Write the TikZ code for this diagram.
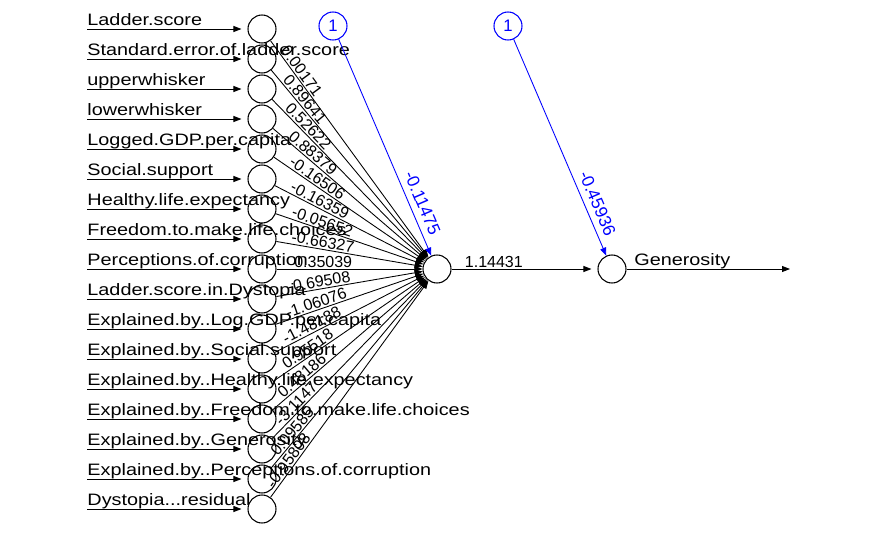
\documentclass[tikz,border=0pt]{standalone}
\usepackage{fontspec}
\setmainfont{Liberation Sans}
\usepackage{graphicx}
\usetikzlibrary{arrows.meta}
\definecolor{biasblue}{RGB}{0, 0, 255}
\definecolor{textblack}{RGB}{0, 0, 0}
\newcommand{\widetext}[1]{\scalebox{1.2}[1]{#1}}

\begin{document}
\begin{tikzpicture}[
        x=0.75pt, y=-0.75pt,
        neuron/.style={circle, draw=textblack, line width=0.8pt, minimum size=21pt, inner sep=0pt},
        bias/.style={circle, draw=biasblue, line width=0.8pt, minimum size=21pt, inner sep=0pt, text=biasblue, font=\fontsize{12.5}{14}\selectfont},
        flow/.style={-{Triangle[length=6pt,width=4.5pt]}, line width=0.65pt, color=textblack},
        biasflow/.style={-{Triangle[length=6pt,width=4.5pt]}, line width=0.65pt, color=biasblue},
        inputlabel/.style={anchor=base west, inner sep=0pt, yshift=2.5pt, font=\fontsize{12.4}{14}\selectfont},
        weightlabel/.style={sloped, above, inner sep=1pt, font=\fontsize{12}{14}\selectfont},
        biaslabel/.style={sloped, above, inner sep=4.5pt, text=biasblue, font=\fontsize{13}{15}\selectfont}
    ]
    \useasboundingbox (0,0) rectangle (875,540);

    % Input layer
    \node[neuron] (ladder) at (262,29) {};
    \node[neuron] (stderr) at (262,59) {};
    \node[neuron] (upper) at (262,89) {};
    \node[neuron] (lower) at (262,119) {};
    \node[neuron] (gdp) at (262,149) {};
    \node[neuron] (social) at (262,179) {};
    \node[neuron] (health) at (262,209) {};
    \node[neuron] (freedom) at (262,239) {};
    \node[neuron] (corrupt) at (262,269) {};
    \node[neuron] (dystopia) at (262,299) {};
    \node[neuron] (ex_gdp) at (262,329) {};
    \node[neuron] (ex_social) at (262,359) {};
    \node[neuron] (ex_health) at (262,389) {};
    \node[neuron] (ex_freedom) at (262,419) {};
    \node[neuron] (ex_generosity) at (262,449) {};
    \node[neuron] (ex_corrupt) at (262,479) {};
    \node[neuron] (residual) at (262,509) {};

    % Hidden, output and bias nodes
    \node[neuron] (hidden) at (437,269) {};
    \node[neuron] (generosity) at (612,269) {};
    \node[bias] (bias1) at (333,26) {1};
    \node[bias] (bias2) at (508,26) {1};

    % Input arrows
    \coordinate (ladder_in) at (87,29);
    \coordinate (stderr_in) at (87,59);
    \coordinate (upper_in) at (87,89);
    \coordinate (lower_in) at (87,119);
    \coordinate (gdp_in) at (87,149);
    \coordinate (social_in) at (87,179);
    \coordinate (health_in) at (87,209);
    \coordinate (freedom_in) at (87,239);
    \coordinate (corrupt_in) at (87,269);
    \coordinate (dystopia_in) at (87,299);
    \coordinate (ex_gdp_in) at (87,329);
    \coordinate (ex_social_in) at (87,359);
    \coordinate (ex_health_in) at (87,389);
    \coordinate (ex_freedom_in) at (87,419);
    \coordinate (ex_generosity_in) at (87,449);
    \coordinate (ex_corrupt_in) at (87,479);
    \coordinate (residual_in) at (87,509);
    \draw[flow, shorten >=4.5pt] (ladder_in) -- node[inputlabel, pos=0] (t_ladder) {\widetext{Ladder.score}} (ladder);
    \draw[flow, shorten >=4.5pt] (stderr_in) -- node[inputlabel, pos=0] (t_stderr) {\widetext{Standard.error.of.ladder.score}} (stderr);
    \draw[flow, shorten >=4.5pt] (upper_in) -- node[inputlabel, pos=0] (t_upper) {\widetext{upperwhisker}} (upper);
    \draw[flow, shorten >=4.5pt] (lower_in) -- node[inputlabel, pos=0] (t_lower) {\widetext{lowerwhisker}} (lower);
    \draw[flow, shorten >=4.5pt] (gdp_in) -- node[inputlabel, pos=0] (t_gdp) {\widetext{Logged.GDP.per.capita}} (gdp);
    \draw[flow, shorten >=4.5pt] (social_in) -- node[inputlabel, pos=0] (t_social) {\widetext{Social.support}} (social);
    \draw[flow, shorten >=4.5pt] (health_in) -- node[inputlabel, pos=0] (t_health) {\widetext{Healthy.life.expectancy}} (health);
    \draw[flow, shorten >=4.5pt] (freedom_in) -- node[inputlabel, pos=0] (t_freedom) {\widetext{Freedom.to.make.life.choices}} (freedom);
    \draw[flow, shorten >=4.5pt] (corrupt_in) -- node[inputlabel, pos=0] (t_corrupt) {\widetext{Perceptions.of.corruption}} (corrupt);
    \draw[flow, shorten >=4.5pt] (dystopia_in) -- node[inputlabel, pos=0] (t_dystopia) {\widetext{Ladder.score.in.Dystopia}} (dystopia);
    \draw[flow, shorten >=4.5pt] (ex_gdp_in) -- node[inputlabel, pos=0] (t_ex_gdp) {\widetext{Explained.by..Log.GDP.per.capita}} (ex_gdp);
    \draw[flow, shorten >=4.5pt] (ex_social_in) -- node[inputlabel, pos=0] (t_ex_social) {\widetext{Explained.by..Social.support}} (ex_social);
    \draw[flow, shorten >=4.5pt] (ex_health_in) -- node[inputlabel, pos=0] (t_ex_health) {\widetext{Explained.by..Healthy.life.expectancy}} (ex_health);
    \draw[flow, shorten >=4.5pt] (ex_freedom_in) -- node[inputlabel, pos=0] (t_ex_freedom) {\widetext{Explained.by..Freedom.to.make.life.choices}} (ex_freedom);
    \draw[flow, shorten >=4.5pt] (ex_generosity_in) -- node[inputlabel, pos=0] (t_ex_generosity) {\widetext{Explained.by..Generosity}} (ex_generosity);
    \draw[flow, shorten >=4.5pt] (ex_corrupt_in) -- node[inputlabel, pos=0] (t_ex_corrupt) {\widetext{Explained.by..Perceptions.of.corruption}} (ex_corrupt);
    \draw[flow, shorten >=4.5pt] (residual_in) -- node[inputlabel, pos=0] (t_residual) {\widetext{Dystopia...residual}} (residual);

    % Weights into the hidden neuron
    \draw[flow] (ladder) -- node[weightlabel, pos=0.16] (w_ladder) {0.00171} (hidden);
    \draw[flow] (stderr) -- node[weightlabel, pos=0.18] (w_stderr) {0.89641} (hidden);
    \draw[flow] (upper) -- node[weightlabel, pos=0.20] (w_upper) {0.52622} (hidden);
    \draw[flow] (lower) -- node[weightlabel, pos=0.23] (w_lower) {0.88379} (hidden);
    \draw[flow] (gdp) -- node[weightlabel, pos=0.26] (w_gdp) {-0.16506} (hidden);
    \draw[flow] (social) -- node[weightlabel, pos=0.28] (w_social) {-0.16359} (hidden);
    \draw[flow] (health) -- node[weightlabel, pos=0.30] (w_health) {-0.05652} (hidden);
    \draw[flow] (freedom) -- node[weightlabel, pos=0.31] (w_freedom) {-0.66327} (hidden);
    \draw[flow] (corrupt) -- node[weightlabel, pos=0.32] (w_corrupt) {0.35039} (hidden);
    \draw[flow] (dystopia) -- node[weightlabel, pos=0.30] (w_dystopia) {-0.69508} (hidden);
    \draw[flow] (ex_gdp) -- node[weightlabel, pos=0.29] (w_ex_gdp) {-1.06076} (hidden);
    \draw[flow] (ex_social) -- node[weightlabel, pos=0.27] (w_ex_social) {-1.48188} (hidden);
    \draw[flow] (ex_health) -- node[weightlabel, pos=0.25] (w_ex_health) {0.95518} (hidden);
    \draw[flow] (ex_freedom) -- node[weightlabel, pos=0.22] (w_ex_freedom) {0.48186} (hidden);
    \draw[flow] (ex_generosity) -- node[weightlabel, pos=0.19] (w_ex_generosity) {-3.1147} (hidden);
    \draw[flow] (ex_corrupt) -- node[weightlabel, pos=0.17] (w_ex_corrupt) {0.09585} (hidden);
    \draw[flow] (residual) -- node[weightlabel, pos=0.15] (w_residual) {-0.95808} (hidden);

    % Hidden to output
    \draw[flow, shorten >=4.5pt] (hidden) -- node[weightlabel, pos=0.29] (w_hidden) {1.14431} (generosity);
    \coordinate (generosity_out) at (790,269);
    \draw[flow] (generosity) -- node[inputlabel, pos=0.045] (t_generosity) {\widetext{Generosity}} (generosity_out);

    % Bias weights
    \draw[biasflow] (bias1) -- node[biaslabel, pos=0.78] (w_bias1) {-0.11475} (hidden);
    \draw[biasflow] (bias2) -- node[biaslabel, pos=0.78] (w_bias2) {-0.45936} (generosity);

    \end{tikzpicture}
\end{document}
